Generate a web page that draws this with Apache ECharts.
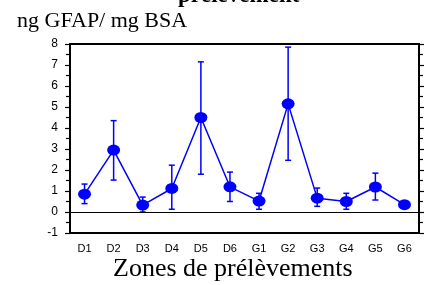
<!DOCTYPE html>
<html><head><meta charset="utf-8">
<script src="https://cdn.jsdelivr.net/npm/echarts@6/dist/echarts.min.js"></script>
<style>html,body{margin:0;padding:0;background:#fff}#c{width:432px;height:285px}</style>
</head><body><div id="c"></div>
<script>
const categories = ['D1','D2','D3','D4','D5','D6','G1','G2','G3','G4','G5','G6'];
const means = [0.85, 2.95, 0.33, 1.12, 4.5, 1.2, 0.52, 5.15, 0.66, 0.5, 1.19, 0.35];
const upper = [1.33, 4.35, 0.71, 2.23, 7.15, 1.9, 0.89, 7.85, 1.14, 0.89, 1.85, 0.35];
const lower = [0.4, 1.52, 0.0, 0.13, 1.8, 0.5, 0.13, 2.46, 0.27, 0.13, 0.57, 0.35];
const yTicks = [-1, 0, 1, 2, 3, 4, 5, 6, 7, 8];

const errData = categories.map((c, i) => [i, lower[i], upper[i]]);
const blue = '#0000ff';
const chart = echarts.init(document.getElementById('c'), null, {renderer: 'canvas'});
const tickStyle = {color: '#000', width: 1.2};
chart.setOption({
  animation: false,
  grid: {left: 70, right: 13, top: 44, bottom: 52},
  graphic: [
    {type: 'text', left: 17, top: 10, style: {text: 'ng GFAP/ mg BSA', font: '22px "Liberation Serif", "Times New Roman", serif', fill: '#000'}},
    {type: 'text', left: 178, top: -15, style: {text: 'prélèvement', font: 'bold 23px "Liberation Serif", "Times New Roman", serif', fill: '#000'}},
    {type: 'text', left: 113, top: 256, style: {text: 'Zones de prélèvements', font: '26px "Liberation Serif", "Times New Roman", serif', fill: '#000'}}
  ],
  xAxis: [
    {type: 'category', data: categories, boundaryGap: true,
     axisLine: {onZero: false, lineStyle: {color: '#000', width: 2}},
     axisTick: {inside: false, alignWithLabel: true, length: 4, lineStyle: tickStyle},
     axisLabel: {margin: 10, fontFamily: 'Liberation Sans, Arial, sans-serif', fontSize: 11, color: '#000'}},
    {type: 'category', data: categories, position: 'top', boundaryGap: true,
     axisLine: {onZero: false, lineStyle: {color: '#000', width: 2}},
     axisTick: {inside: false, alignWithLabel: true, length: 4, lineStyle: tickStyle},
     axisLabel: {show: false}}
  ],
  yAxis: [
    {type: 'value', min: yTicks[0], max: yTicks[yTicks.length - 1], interval: 1,
     splitLine: {show: false},
     axisLine: {show: true, onZero: false, lineStyle: {color: '#000', width: 2}},
     axisTick: {show: true, inside: false, length: 5, lineStyle: tickStyle},
     minorTick: {show: true, splitNumber: 2, length: 4, lineStyle: tickStyle},
     axisLabel: {margin: 12, fontFamily: 'Liberation Sans, Arial, sans-serif', fontSize: 12, color: '#000'}},
    {type: 'value', min: yTicks[0], max: yTicks[yTicks.length - 1], interval: 1, position: 'right',
     splitLine: {show: false},
     axisLine: {show: true, onZero: false, lineStyle: {color: '#000', width: 2}},
     axisTick: {show: true, inside: false, length: 5, lineStyle: tickStyle},
     minorTick: {show: true, splitNumber: 2, length: 4, lineStyle: tickStyle},
     axisLabel: {show: false}}
  ],
  series: [
    {type: 'custom', data: errData, z: 3,
     renderItem: function (params, api) {
       const x = api.value(0);
       const lo = api.coord([x, api.value(1)]);
       const hi = api.coord([x, api.value(2)]);
       const w = 3;
       const st = {stroke: blue, lineWidth: 1.5};
       return {type: 'group', children: [
         {type: 'line', shape: {x1: hi[0], y1: hi[1], x2: lo[0], y2: lo[1]}, style: st},
         {type: 'line', shape: {x1: hi[0] - w, y1: hi[1], x2: hi[0] + w, y2: hi[1]}, style: st},
         {type: 'line', shape: {x1: lo[0] - w, y1: lo[1], x2: lo[0] + w, y2: lo[1]}, style: st}
       ]};
     }},
    {type: 'line', data: means, z: 4,
     lineStyle: {color: blue, width: 1.5},
     itemStyle: {color: blue},
     symbol: 'circle', symbolSize: [13, 11],
     markLine: {silent: true, symbol: 'none', label: {show: false},
       lineStyle: {color: '#000', width: 1.2, type: 'solid'},
       data: [{yAxis: 0}]}}
  ]
});
</script></body></html>
